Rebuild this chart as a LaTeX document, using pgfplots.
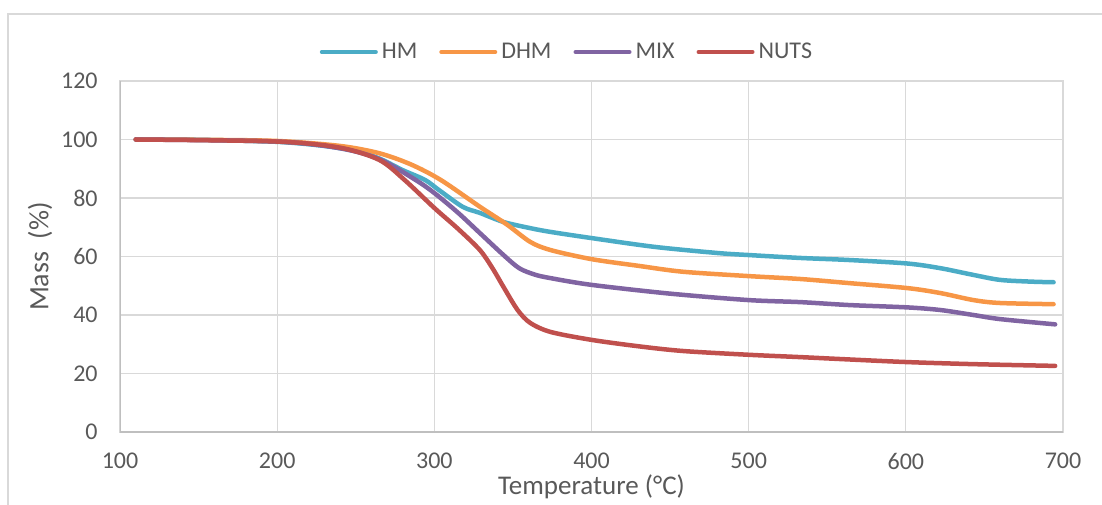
\documentclass[border=0pt]{standalone}
\usepackage{fontspec}
\setmainfont{Carlito}
\usepackage{pgfplots}
\pgfplotsset{compat=1.18}
\definecolor{hm}{HTML}{4BACC6}
\definecolor{dhm}{HTML}{F79646}
\definecolor{mix}{HTML}{8064A2}
\definecolor{nuts}{HTML}{C0504D}
\definecolor{txt}{HTML}{595959}
\definecolor{gridc}{HTML}{D9D9D9}
\definecolor{axc}{HTML}{BFBFBF}

\begin{document}
\begin{tikzpicture}
% page: 1102x504 px at 0.5pt/px, plot area 943x351 px
\useasboundingbox (-60pt,-36pt) rectangle (491pt,216pt);
\draw[gridc,line width=0.8pt] (-56pt,-40pt) -- (-56pt,209pt) -- (495pt,209pt);
\begin{axis}[
  at={(0pt,0pt)}, anchor=south west,
  scale only axis,
  width=471.5pt, height=175.5pt,
  xmin=100, xmax=700, ymin=0, ymax=120,
  xtick={100,200,...,700}, ytick={0,20,...,120},
  major tick length=0pt,
  grid=major,
  grid style={draw=gridc, line width=0.6pt},
  axis line style={draw=gridc, line width=0.6pt},
  font=\fontsize{12}{14}\selectfont,
  every tick label/.append style={text=txt},
  /pgf/number format/assume math mode=true,
  /pgf/number format/1000 sep={},
  xticklabel style={anchor=center, inner sep=0pt, yshift=-14.5pt},
  yticklabel style={anchor=east, inner sep=0pt, xshift=-11pt},
  xlabel={Temperature (°C)},
  ylabel={Mass\ \ (\%)},
  xlabel style={at={([yshift=-27.5pt]axis description cs:0.5,0)}, anchor=center, inner sep=0pt, text=txt, font=\fontsize{13.5}{15}\selectfont},
  ylabel style={at={([xshift=-40pt]axis description cs:0,0.5)}, anchor=center, inner sep=0pt, rotate=0, text=txt, font=\fontsize{14}{16}\selectfont},
  legend columns=-1,
  legend style={draw=none, fill=none, at={([yshift=14.5pt]axis description cs:0.475,1)}, anchor=center,
    font=\fontsize{12}{14}\selectfont, text=txt,
    /tikz/every even column/.append style={column sep=9pt}},
  legend image code/.code={\draw[#1, line width=2pt, line cap=round] (0pt,0pt) -- (27pt,0pt);},
  every axis plot/.append style={line width=2.25pt, line cap=round, line join=round, smooth, no markers},
]
\draw[axc, line width=0.8pt] (rel axis cs:0,1) -- (rel axis cs:0,0) -- (rel axis cs:1,0);
\addplot[hm] coordinates {
 (110,100) (150,99.9) (200,99.2) (230,97.8) (250,96) (265,93.5) (280,89.5) (294,86.2)
 (303,82.7) (318,77) (329,74.9) (344,71.8) (361,69.7) (374,68.4) (400,66.3) (440,63.3)
 (480,61.2) (500,60.5) (533,59.5) (564,58.8) (601,57.6) (622,56) (643,53.7) (660,52)
 (680,51.4) (694,51.2)
};
\addlegendentry{HM}
\addplot[dhm] coordinates {
 (110,100) (150,99.9) (200,99.5) (240,97.8) (265,95.3) (285,91.5) (304,86.2) (329,77)
 (346,71) (361,65) (374,62.2) (400,59.1) (430,56.8) (458,54.8) (500,53.3) (533,52.3)
 (564,50.9) (601,49.2) (622,47.5) (643,45.1) (660,44.1) (694,43.7)
};
\addlegendentry{DHM}
\addplot[mix] coordinates {
 (110,100) (200,99.3) (240,97) (265,93.3) (288,86.2) (300,81.7) (315,75) (329,68)
 (344,60.5) (354,56) (364,53.8) (374,52.6) (400,50.3) (450,47.3) (500,45.1) (533,44.4)
 (564,43.4) (601,42.6) (622,41.7) (643,40) (660,38.6) (695,36.8)
};
\addlegendentry{MIX}
\addplot[nuts] coordinates {
 (110,100) (200,99.3) (240,97.2) (265,93) (281,86.2) (300,76.6) (315,69.5) (329,62.2)
 (337,56) (344,49.6) (353,41.7) (361,37.3) (374,34.2) (400,31.5) (430,29.3) (458,27.7)
 (500,26.4) (533,25.6) (564,24.8) (601,23.9) (643,23.2) (695,22.6)
};
\addlegendentry{NUTS}
\end{axis}
\end{tikzpicture}
\end{document}
